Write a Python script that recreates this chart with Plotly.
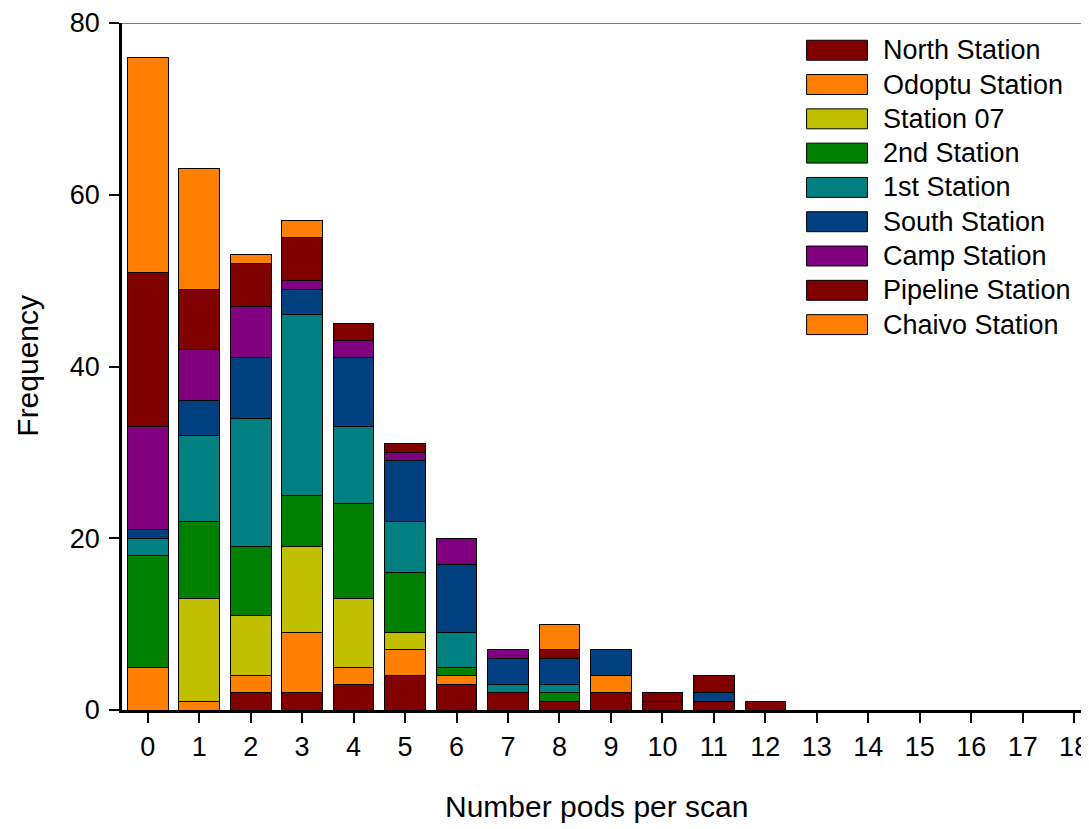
import plotly.graph_objects as go

# ---------------- data ----------------
x_values = list(range(19))
tick_labels = [str(v) for v in x_values]
series_names = ["North Station", "Odoptu Station", "Station 07", "2nd Station",
                "1st Station", "South Station", "Camp Station", "Pipeline Station",
                "Chaivo Station"]
north    = [0, 0, 2, 2, 3, 4, 3, 2, 1, 2, 1, 1, 1, 0, 0, 0, 0, 0, 0]
odoptu   = [5, 1, 2, 7, 2, 3, 1, 0, 0, 2, 0, 0, 0, 0, 0, 0, 0, 0, 0]
station07 = [0, 12, 7, 10, 8, 2, 0, 0, 0, 0, 0, 0, 0, 0, 0, 0, 0, 0, 0]
second   = [13, 9, 8, 6, 11, 7, 1, 0, 1, 0, 0, 0, 0, 0, 0, 0, 0, 0, 0]
first    = [2, 10, 15, 21, 9, 6, 4, 1, 1, 0, 0, 0, 0, 0, 0, 0, 0, 0, 0]
south    = [1, 4, 7, 3, 8, 7, 8, 3, 3, 3, 0, 1, 0, 0, 0, 0, 0, 0, 0]
camp     = [12, 6, 6, 1, 2, 1, 3, 1, 0, 0, 0, 0, 0, 0, 0, 0, 0, 0, 0]
pipeline = [18, 7, 5, 5, 2, 1, 0, 0, 1, 0, 1, 2, 0, 0, 0, 0, 0, 0, 0]
chaivo   = [25, 14, 1, 2, 0, 0, 0, 0, 3, 0, 0, 0, 0, 0, 0, 0, 0, 0, 0]
series_values = [north, odoptu, station07, second, first, south, camp, pipeline, chaivo]
series_colors = ["#800000", "#FF8000", "#C0C000", "#008000", "#008080",
                 "#004080", "#800080", "#800000", "#FF8000"]
y_ticks = [0, 20, 40, 60, 80]

FONT = "Liberation Sans, Arial, sans-serif"
# the page body has an 8px margin; size the figure so it ends at the window edge
OFF = 8
W, H = 1089 - OFF, 829 - OFF
ML, MR, MT, MB = 122 - OFF, 0, 21 - OFF, 119
PW, PH = W - ML - MR, H - MT - MB


def px_to_paper_x(px):
    return (px - OFF - ML) / PW


def px_to_paper_y(py):
    return (H - MB - (py - OFF)) / PH


fig = go.Figure()
for name, vals, col in zip(series_names, series_values, series_colors):
    fig.add_trace(go.Bar(
        x=x_values,
        y=[v if v != 0 else None for v in vals],
        name=name,
        marker=dict(color=col, line=dict(color="#000000", width=1)),
        showlegend=False,
    ))

# manual legend (large swatches like the reference)
shapes = []
annotations = []
row0, row_step = 48.3, 34.4
for i, (name, col) in enumerate(zip(series_names, series_colors)):
    cy = row0 + i * row_step
    shapes.append(dict(type="rect", xref="paper", yref="paper",
                       x0=px_to_paper_x(808), x1=px_to_paper_x(869),
                       y0=px_to_paper_y(cy + 10), y1=px_to_paper_y(cy - 10),
                       fillcolor=col, line=dict(color="#000000", width=1)))
    annotations.append(dict(xref="paper", yref="paper",
                            x=px_to_paper_x(883), y=px_to_paper_y(cy),
                            xanchor="left", yanchor="middle", showarrow=False,
                            text=name, font=dict(family=FONT, size=27, color="#000000")))

# thin top frame line
shapes.append(dict(type="line", xref="paper", yref="y", x0=0, x1=1, y0=80, y1=80,
                   line=dict(color="#000000", width=1)))

# axis titles
annotations.append(dict(xref="paper", yref="paper", x=px_to_paper_x(598), y=px_to_paper_y(807),
                        xanchor="center", yanchor="middle", showarrow=False,
                        text="Number pods per scan", font=dict(family=FONT, size=30, color="#000000")))
annotations.append(dict(xref="paper", yref="paper", x=px_to_paper_x(26.5), y=px_to_paper_y(365),
                        xanchor="center", yanchor="middle", showarrow=False, textangle=-90,
                        text="Frequency", font=dict(family=FONT, size=30, color="#000000")))

fig.update_layout(
    width=W, height=H,
    margin=dict(l=ML, r=MR, t=MT, b=MB, pad=0),
    barmode="stack",
    bargap=0.21,
    plot_bgcolor="#FFFFFF",
    paper_bgcolor="#FFFFFF",
    font=dict(family=FONT, size=27, color="#000000"),
    shapes=shapes,
    annotations=annotations,
    showlegend=False,
)
fig.update_xaxes(
    range=[-0.5, 18.25],
    tickmode="array", tickvals=x_values, ticktext=tick_labels,
    ticks="outside", ticklen=10, tickwidth=1.5, tickcolor="#000000",
    showline=True, linewidth=2.5, linecolor="#000000",
    showgrid=False, zeroline=False,
    tickfont=dict(family=FONT, size=27, color="#000000"),
    ticklabelstandoff=1,
    ticklabeloverflow="allow",
)
fig.update_yaxes(
    range=[0, 80],
    tickmode="array", tickvals=y_ticks,
    ticks="outside", ticklen=10, tickwidth=1.5, tickcolor="#000000",
    showline=True, linewidth=2.5, linecolor="#000000",
    showgrid=False, zeroline=False,
    tickfont=dict(family=FONT, size=27, color="#000000"),
    ticklabelstandoff=4,
    ticklabeloverflow="allow",
)

fig.write_html("out.html")
